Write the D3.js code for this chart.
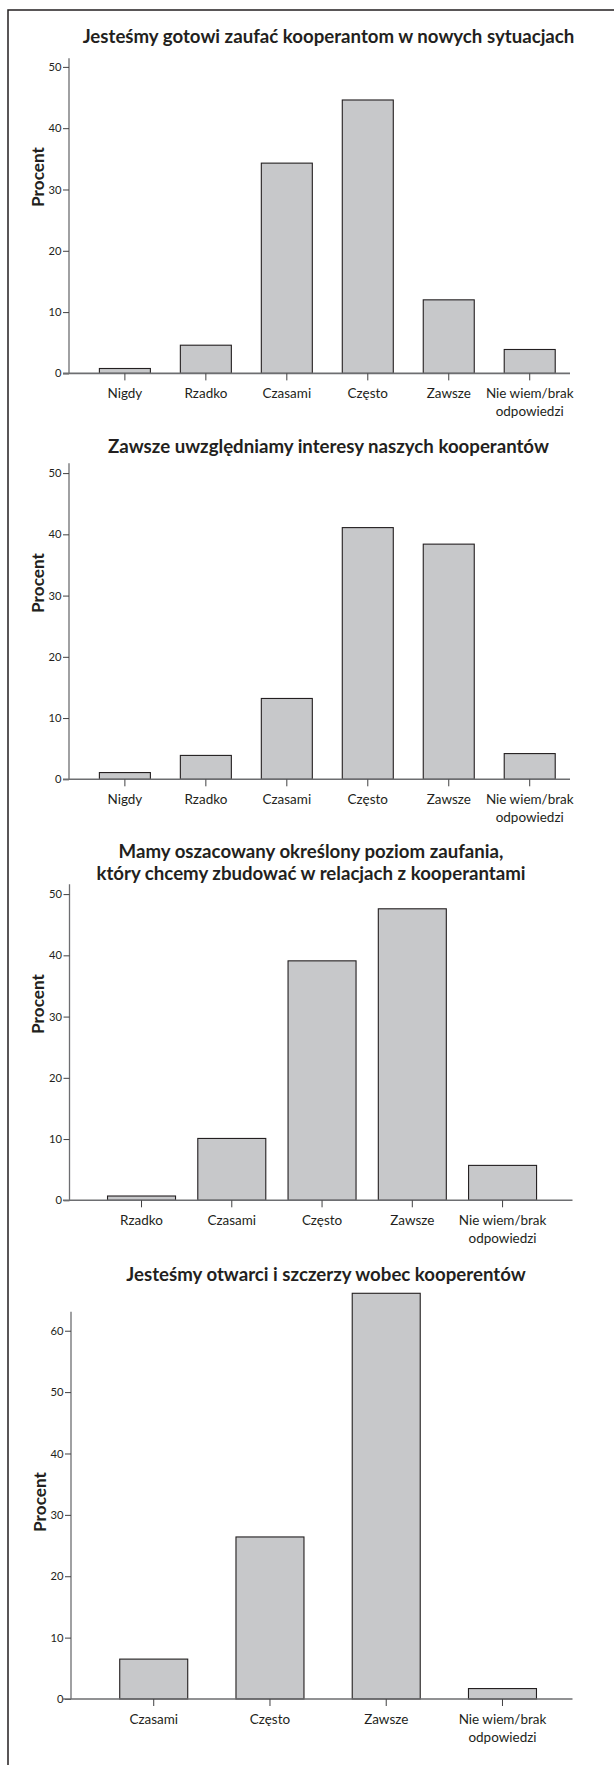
<!DOCTYPE html>
<html><head><meta charset="utf-8">
<script src="https://cdn.jsdelivr.net/npm/d3@7"></script>
<style>html,body{margin:0;padding:0;background:#fff;} svg{display:block;}</style>
</head><body>
<script>
// ---- data ----
const title1 = ["Jesteśmy gotowi zaufać kooperantom w nowych sytuacjach"];
const cats1 = ["Nigdy", "Rzadko", "Czasami", "Często", "Zawsze", "Nie wiem/brak\nodpowiedzi"];
const vals1 = [0.8, 4.6, 34.3, 44.6, 12.0, 3.9];
const ticks1 = [0, 10, 20, 30, 40, 50];

const title2 = ["Zawsze uwzględniamy interesy naszych kooperantów"];
const cats2 = ["Nigdy", "Rzadko", "Czasami", "Często", "Zawsze", "Nie wiem/brak\nodpowiedzi"];
const vals2 = [1.1, 3.9, 13.2, 41.1, 38.4, 4.2];
const ticks2 = [0, 10, 20, 30, 40, 50];

const title3 = ["Mamy oszacowany określony poziom zaufania,", "który chcemy zbudować w relacjach z kooperantami"];
const cats3 = ["Rzadko", "Czasami", "Często", "Zawsze", "Nie wiem/brak\nodpowiedzi"];
const vals3 = [0.7, 10.1, 39.1, 47.6, 5.7];
const ticks3 = [0, 10, 20, 30, 40, 50];

const title4 = ["Jesteśmy otwarci i szczerzy wobec kooperentów"];
const cats4 = ["Czasami", "Często", "Zawsze", "Nie wiem/brak\nodpowiedzi"];
const vals4 = [6.5, 26.4, 66.1, 1.7];
const ticks4 = [0, 10, 20, 30, 40, 50, 60];

const yTitle = "Procent";

// ---- layout ----
const W = 614, H = 1765;
const FONT = "Lato, 'Open Sans', 'DejaVu Sans', sans-serif";
const TEXT = "#231f20";
const charts = [
  {title: title1, cats: cats1, vals: vals1, ticks: ticks1, titleX: 328.5, titleY: [43], zeroY: 373.4, topY: 58.3, max: 51.4, axisX: 69, xStart: 63, xEnd: 570, band: [84.4, 570.2], barW: 51, labY: 398, procY: 177, procX: 44},
  {title: title2, cats: cats2, vals: vals2, ticks: ticks2, titleX: 328.5, titleY: [453], zeroY: 779.3, topY: 463.3, max: 51.6, axisX: 69, xStart: 63, xEnd: 570, band: [84.4, 570.2], barW: 51, labY: 804, procY: 583, procX: 44},
  {title: title3, cats: cats3, vals: vals3, ticks: ticks3, titleX: 311, titleY: [858, 880], zeroY: 1200.3, topY: 884.3, max: 51.6, axisX: 69.5, xStart: 63, xEnd: 572.5, band: [96.4, 547.7], barW: 68, labY: 1225, procY: 1004, procX: 44},
  {title: title4, cats: cats4, vals: vals4, ticks: ticks4, titleX: 326, titleY: [1281], zeroY: 1699, topY: 1311.7, max: 63.1, axisX: 71, xStart: 63, xEnd: 572.5, band: [95.6, 560.6], barW: 68, labY: 1724, procY: 1502, procX: 46}
];

const svg = d3.select("body").append("svg").attr("width", W).attr("height", H)
  .style("font-family", FONT);
svg.append("rect").attr("width", W).attr("height", H).attr("fill", "#fff");

function fitSize(txt, weight, target) {
  const t = svg.append("text").attr("font-size", 100).attr("font-weight", weight).text(txt);
  const len = t.node().getComputedTextLength();
  t.remove();
  return 100 * target / len;
}
const titleSize = fitSize(title1[0], 700, 492);
const catSize = fitSize("Nie wiem/brak", 400, 87.7);
const tickSize = fitSize("50", 400, 13);
const procSize = fitSize(yTitle, 700, 60);

// frame
svg.append("path").attr("d", `M8,${H} L8,10 L${W},10`).attr("fill", "none")
  .attr("stroke", "#231f20").attr("stroke-width", 1.5);

charts.forEach(c => {
  const g = svg.append("g");
  const y = d3.scaleLinear().domain([0, c.max]).range([c.zeroY, c.topY]);
  const x = d3.scaleBand().domain(c.cats).range(c.band).paddingInner(0).paddingOuter(0);

  // title
  c.title.forEach((line, i) => {
    g.append("text").attr("x", c.titleX).attr("y", c.titleY[i]).attr("text-anchor", "middle")
      .attr("font-size", titleSize).attr("font-weight", 700).attr("fill", TEXT).text(line);
  });

  // bars
  g.selectAll("rect.bar").data(c.vals).join("rect").attr("class", "bar")
    .attr("x", (d, i) => x(c.cats[i]) + (x.bandwidth() - c.barW) / 2)
    .attr("width", c.barW)
    .attr("y", d => y(d))
    .attr("height", d => y(0) - y(d))
    .attr("fill", "#c7c8ca").attr("stroke", "#231f20").attr("stroke-width", 1.1);

  // y axis
  const ya = g.append("g").attr("transform", `translate(${c.axisX},0)`)
    .call(d3.axisLeft(y).tickValues(c.ticks).tickSize(6).tickPadding(1.5).tickFormat(d3.format("d")));
  ya.select(".domain").attr("d", `M0,${c.topY}V${c.zeroY}`).attr("stroke", "#6d6e71").attr("stroke-width", 1.3);
  ya.selectAll(".tick line").attr("stroke", "#414042").attr("stroke-width", 1);
  ya.selectAll(".tick text").attr("font-size", tickSize).attr("font-family", FONT).attr("fill", TEXT);

  // x axis
  const xa = g.append("g").attr("transform", `translate(0,${c.zeroY})`)
    .call(d3.axisBottom(x).tickSize(7).tickFormat(""));
  xa.select(".domain").attr("d", `M${c.xStart},0H${c.xEnd}`).attr("stroke", "#6d6e71").attr("stroke-width", 1.6);
  xa.selectAll(".tick line").attr("stroke", "#414042").attr("stroke-width", 1);
  xa.selectAll(".tick text").remove();
  c.cats.forEach(cat => {
    const cx = x(cat) + x.bandwidth() / 2;
    cat.split("\n").forEach((ln, j) => {
      g.append("text").attr("x", cx).attr("y", c.labY + j * 18.3).attr("text-anchor", "middle")
        .attr("font-size", catSize).attr("fill", TEXT).text(ln);
    });
  });

  // y title
  g.append("text").attr("transform", `translate(${c.procX},${c.procY}) rotate(-90)`)
    .attr("text-anchor", "middle").attr("font-size", procSize).attr("font-weight", 700)
    .attr("fill", TEXT).text(yTitle);
});
</script>
</body></html>
